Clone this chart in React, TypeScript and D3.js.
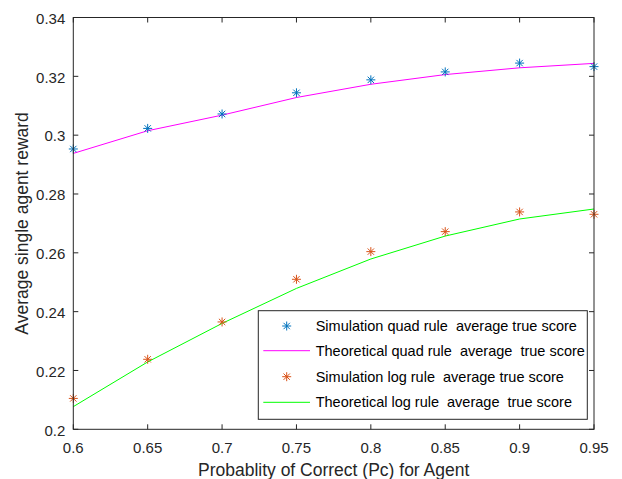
import React from "react";
import * as d3 from "d3";

const pc = [0.6, 0.65, 0.7, 0.75, 0.8, 0.85, 0.9, 0.95];
const simQuad = [0.2953, 0.3023, 0.3072, 0.3144, 0.3188, 0.3215, 0.3245, 0.3233];
const theoQuad = [0.2938, 0.3015, 0.3068, 0.3128, 0.3173, 0.3206, 0.3229, 0.3244];
const simLog = [0.2105, 0.2238, 0.2365, 0.251, 0.2604, 0.2672, 0.2739, 0.2731];
const theoLog = [0.2077, 0.2229, 0.236, 0.2479, 0.2579, 0.2657, 0.2715, 0.2749];
const xTicks = [0.6, 0.65, 0.7, 0.75, 0.8, 0.85, 0.9, 0.95];
const yTicks = [0.2, 0.22, 0.24, 0.26, 0.28, 0.3, 0.32, 0.34];
const legendLabels = [
  "Simulation quad rule  average true score",
  "Theoretical quad rule  average  true score",
  "Simulation log rule  average true score",
  "Theoretical log rule  average  true score",
];

const W = 622, H = 479;
const L = 73.3, R = 594, T = 17.5, B = 429.3;
const AX = "#262626";
const BLUE = "#0072BD", ORANGE = "#D95319", MAGENTA = "#FF00FF", GREEN = "#00FF00";
const FONT = "'Liberation Sans', Arial, Helvetica, sans-serif";

function Star({ x, y, color }: { x: number; y: number; color: string }) {
  const r = 4.5, d = r * 0.707;
  return (
    <g stroke={color} strokeWidth={1}>
      <line x1={x - r} y1={y} x2={x + r} y2={y} />
      <line x1={x} y1={y - r} x2={x} y2={y + r} />
      <line x1={x - d} y1={y - d} x2={x + d} y2={y + d} />
      <line x1={x - d} y1={y + d} x2={x + d} y2={y - d} />
    </g>
  );
}

export default function App() {
  const x = d3.scaleLinear().domain([0.6, 0.95]).range([L, R]);
  const y = d3.scaleLinear().domain([0.2, 0.34]).range([B, T]);
  const line = d3
    .line<number>()
    .x((_, i) => x(pc[i]))
    .y((d) => y(d));
  const tick = 5;
  const legX = 258.3, legY = 310.7, legW = 329, legH = 108.6;
  const rows = [326, 350.7, 376.7, 402.3];
  return (
    <svg width={W} height={H} style={{ position: "absolute", left: 0, top: 0, background: "#fff" }} fontFamily={FONT}>
      <rect x={0} y={0} width={W} height={H} fill="#fff" />
      <path d={line(theoQuad) || ""} fill="none" stroke={MAGENTA} strokeWidth={1} />
      <path d={line(theoLog) || ""} fill="none" stroke={GREEN} strokeWidth={1} />
      {simQuad.map((v, i) => (
        <Star key={"q" + i} x={x(pc[i])} y={y(v)} color={BLUE} />
      ))}
      {simLog.map((v, i) => (
        <Star key={"l" + i} x={x(pc[i])} y={y(v)} color={ORANGE} />
      ))}
      <rect x={L} y={T} width={R - L} height={B - T} fill="none" stroke={AX} strokeWidth={1} />
      {xTicks.map((t) => (
        <g key={"xt" + t}>
          <line x1={x(t)} x2={x(t)} y1={B} y2={B - tick} stroke={AX} />
          <line x1={x(t)} x2={x(t)} y1={T} y2={T + tick} stroke={AX} />
          <text x={x(t)} y={B + 24} textAnchor="middle" fontSize={15} fill={AX}>
            {String(t)}
          </text>
        </g>
      ))}
      {yTicks.map((t) => (
        <g key={"yt" + t}>
          <line x1={L} x2={L + tick} y1={y(t)} y2={y(t)} stroke={AX} />
          <line x1={R} x2={R - tick} y1={y(t)} y2={y(t)} stroke={AX} />
          <text x={L - 8} y={y(t)} dy="0.42em" textAnchor="end" fontSize={15} fill={AX}>
            {String(t)}
          </text>
        </g>
      ))}
      <text x={(L + R) / 2} y={476} textAnchor="middle" fontSize={17.5} fill={AX}>
        Probablity of Correct (Pc) for Agent
      </text>
      <text
        transform={`translate(27.5,${(T + B) / 2}) rotate(-90)`}
        textAnchor="middle"
        fontSize={17.5}
        fill={AX}
      >
        Average single agent reward
      </text>
      <rect x={legX} y={legY} width={legW} height={legH} fill="#fff" stroke={AX} strokeWidth={1} />
      <Star x={286.7} y={rows[0]} color={BLUE} />
      <line x1={263.3} x2={310} y1={rows[1]} y2={rows[1]} stroke={MAGENTA} />
      <Star x={286.7} y={rows[2]} color={ORANGE} />
      <line x1={263.3} x2={310} y1={rows[3]} y2={rows[3]} stroke={GREEN} />
      {legendLabels.map((s, i) => (
        <text key={s} x={315.7} y={rows[i]} dy="0.35em" fontSize={14.5} fill="#000" style={{ whiteSpace: "pre" }}>
          {s}
        </text>
      ))}
    </svg>
  );
}
